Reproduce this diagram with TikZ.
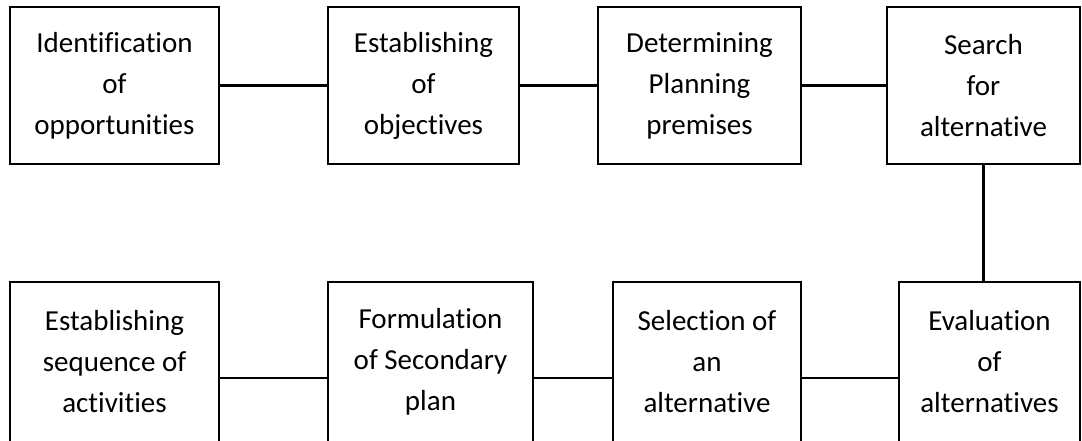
\documentclass[tikz,border=0pt]{standalone}
\usepackage{fontspec}
\setmainfont{Carlito}[Ligatures={NoCommon,NoRare,NoContextual}]
\begin{document}
\begin{tikzpicture}[x=1pt,y=-1pt,
  box/.style={draw, line width=2.2pt, align=center, inner sep=0pt,
    font=\fontsize{29}{41}\selectfont},
  toprow/.style={box, minimum height=157pt},
  botrow/.style={box, minimum height=160pt},
  link/.style={line width=2.2pt}]
\useasboundingbox (0,0) rectangle (1082,440);
\clip (0,0) rectangle (1082,440);
% top row
\node[toprow, minimum width=209pt] (b1) at (114.5,85.5) {Identification\\of\\opportunities};
\node[toprow, minimum width=191pt] (b2) at (423.5,85.5) {Establishing\\of\\objectives};
\node[toprow, minimum width=203pt] (b3) at (699.5,85.5) {Determining\\Planning\\premises};
\node[toprow, minimum width=193pt] (b4) at (983.5,85.5) {Search\\for\\alternative};
% bottom row
\node[botrow, minimum width=209pt] (b5) at (114.5,362) {Establishing\\sequence of\\activities};
\node[botrow, minimum width=205pt] (b6) at (430.5,362) {Formulation\\of Secondary\\plan};
\node[botrow, minimum width=188pt] (b7) at (707,362) {Selection of\\an\\alternative};
\node[botrow, minimum width=181pt] (b8) at (989.5,362) {Evaluation\\of\\alternatives};
% connectors
\draw[link] (b1.east) -- (b2.west);
\draw[link] (b2.east) -- (b3.west);
\draw[link] (b3.east) -- (b4.west);
\draw[link] (b4.south) -- (b4.south |- b8.north);
\draw[link] ([yshift=-16pt]b8.west) -- ([yshift=-16pt]b7.east);
\draw[link] ([yshift=-16pt]b7.west) -- ([yshift=-16pt]b6.east);
\draw[link] ([yshift=-16pt]b6.west) -- ([yshift=-16pt]b5.east);
\end{tikzpicture}
\end{document}
